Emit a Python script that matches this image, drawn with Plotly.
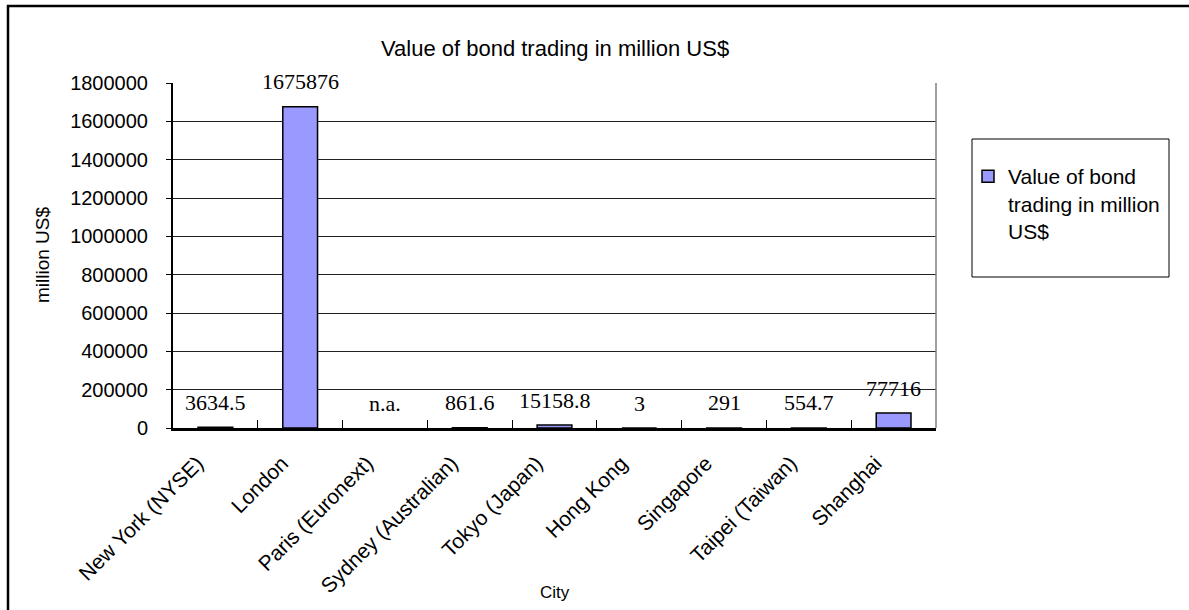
import plotly.graph_objects as go

# Bond trading value by exchange city (million US$); Paris not available
cities = [
    "New York (NYSE)", "London", "Paris (Euronext)", "Sydney (Australian)",
    "Tokyo (Japan)", "Hong Kong", "Singapore", "Taipei (Taiwan)", "Shanghai",
]
values = [3634.5, 1675876, None, 861.6, 15158.8, 3, 291, 554.7, 77716]
y_ticks = [0, 200000, 400000, 600000, 800000, 1000000, 1200000, 1400000, 1600000, 1800000]

series_name = "Value of bond<br>trading in million<br>US$"
sans = "Liberation Sans, Arial, sans-serif"
serif = "Liberation Serif, Times New Roman, serif"

W, H = 1189, 610
L, R, T, B = 173, 253, 83, 182
pw, ph = W - L - R, H - T - B


def px_x(p):
    return (p - L) / pw


def px_y(p):
    return (H - B - p) / ph


fig = go.Figure()
fig.add_trace(go.Bar(
    x=cities, y=values, name=series_name,
    marker=dict(color="#9999FF", line=dict(color="black", width=1.5)),
    width=0.41, showlegend=True,
))


def fmt(v):
    if v is None:
        return "n.a."
    return f"{v:g}" if v != int(v) else str(int(v))


annotations = []
for c, v in zip(cities, values):
    annotations.append(dict(
        x=c, y=0 if v is None else v, xref="x", yref="y",
        text=fmt(v), showarrow=False, yshift=25, yanchor="middle",
        font=dict(family=serif, size=22, color="black"),
    ))

# chart title and axis titles
annotations.append(dict(
    x=0.5, y=px_y(48), xref="paper", yref="paper", xanchor="center", yanchor="middle",
    text="Value of bond trading in million US$", showarrow=False,
    font=dict(family=sans, size=22, color="black"),
))
annotations.append(dict(
    x=px_x(42), y=px_y(255), xref="paper", yref="paper", xanchor="center", yanchor="middle",
    text="million US$", textangle=-90, showarrow=False,
    font=dict(family=sans, size=19, color="black"),
))
annotations.append(dict(
    x=0.5, y=px_y(592), xref="paper", yref="paper", xanchor="center", yanchor="middle",
    text="City", showarrow=False,
    font=dict(family=sans, size=17, color="black"),
))

shapes = [
    # outer frame (left and top edges)
    dict(type="path", xref="paper", yref="paper",
         path=f"M {px_x(8)},{px_y(612)} L {px_x(8)},{px_y(6)} L {px_x(1192)},{px_y(6)}",
         line=dict(color="black", width=2.5)),
    # right edge of the plot area
    dict(type="line", xref="paper", yref="paper", x0=1, x1=1, y0=0, y1=1,
         line=dict(color="#808080", width=1.5)),
    # legend frame
    dict(type="rect", xref="paper", yref="paper",
         x0=px_x(972), x1=px_x(1169), y0=px_y(277), y1=px_y(139),
         line=dict(color="black", width=1), fillcolor="rgba(0,0,0,0)"),
]

fig.update_layout(
    width=W, height=H,
    margin=dict(l=L, r=R, t=T, b=B, autoexpand=False),
    paper_bgcolor="white", plot_bgcolor="white",
    font=dict(family=sans, color="black"),
    annotations=annotations, shapes=shapes,
    legend=dict(
        x=px_x(968), y=px_y(156), xanchor="left", yanchor="top",
        valign="top", bgcolor="rgba(0,0,0,0)", borderwidth=0,
        font=dict(family=sans, size=21, color="black"),
    ),
    xaxis=dict(
        type="category", tickangle=-45, tickson="boundaries",
        ticks="inside", ticklen=8, tickcolor="black",
        showline=True, linecolor="black", linewidth=2.5,
        tickfont=dict(family=sans, size=21, color="black"),
        ticklabelshift=-18, ticklabelstandoff=12,
        showgrid=False, fixedrange=True, layer="above traces",
    ),
    yaxis=dict(
        range=[0, 1800000], tickvals=y_ticks, ticktext=[str(t) for t in y_ticks],
        ticks="outside", ticklen=5, tickcolor="black",
        showline=True, linecolor="black", linewidth=2,
        showgrid=True, gridcolor="#222222", gridwidth=1,
        tickfont=dict(family=sans, size=20, color="black"),
        ticklabelstandoff=14, zeroline=False, fixedrange=True,
    ),
)

fig.write_html("out.html")
